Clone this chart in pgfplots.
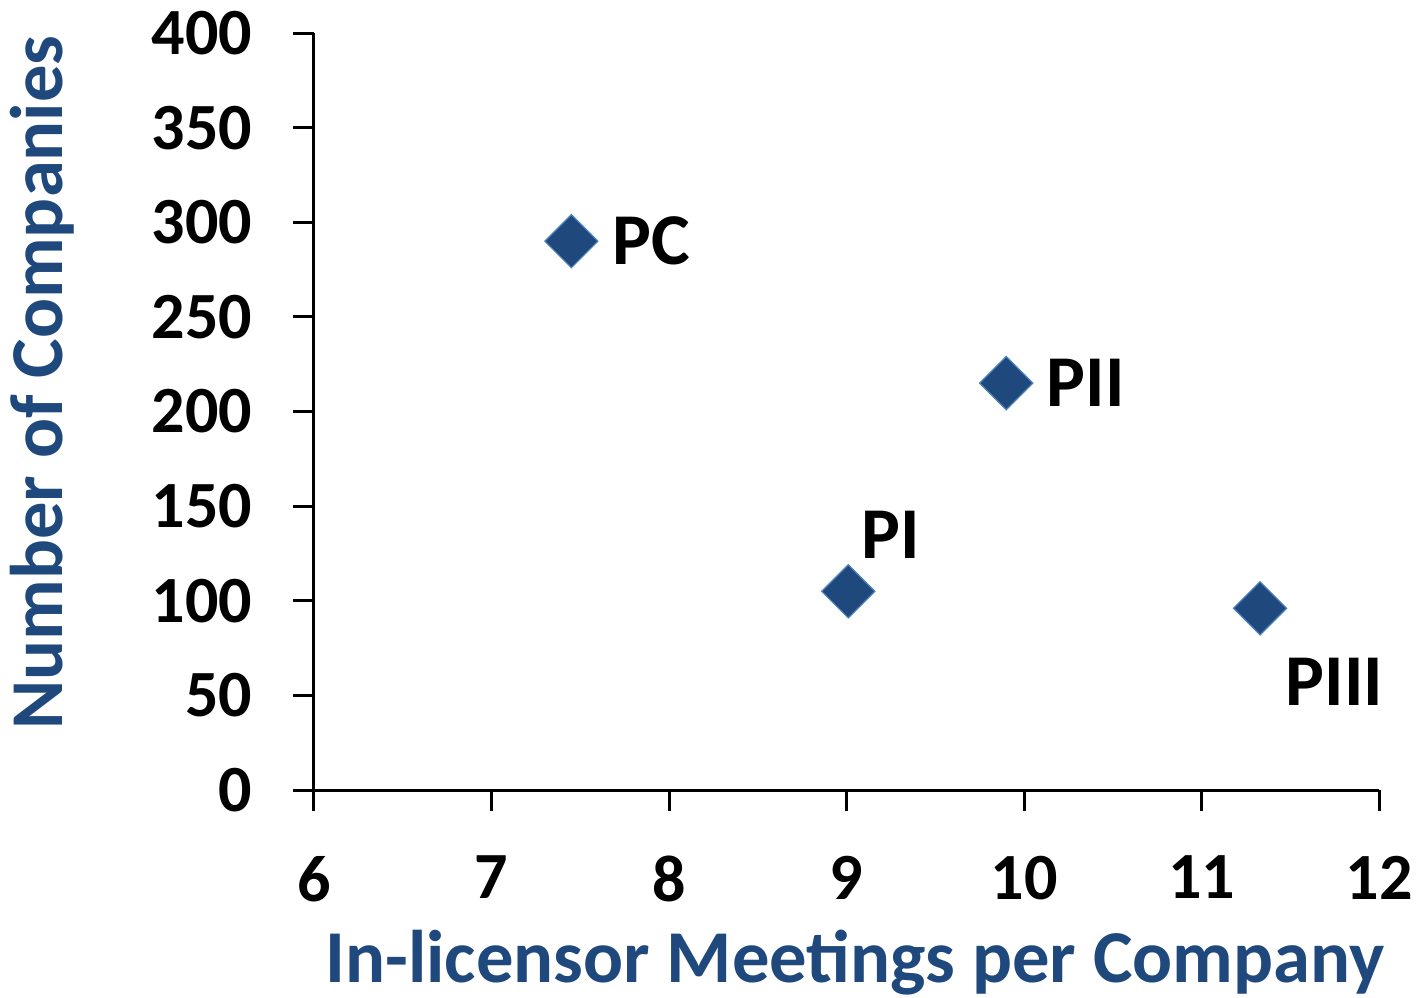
\documentclass[border=0pt]{standalone}
\usepackage{pgfplots}
\pgfplotsset{compat=1.18}
\usepackage{fontspec}
\setmainfont{Carlito}
\definecolor{mblue}{HTML}{1F497D}
\definecolor{medge}{HTML}{4F81BD}
\begin{document}
\begin{tikzpicture}
\begin{axis}[
  at={(0,0)}, anchor=origin,
  scale only axis, width=532.5pt, height=378.5pt,
  xmin=6, xmax=12, ymin=0, ymax=400,
  xtick={6,7,...,12}, ytick={0,50,...,400},
  axis x line*=bottom, axis y line*=left,
  axis line style={line width=1.5pt, black},
  tick style={line width=1.5pt, black},
  tick align=outside, major tick length=10.5pt,
  /pgf/number format/assume math mode=true,
  tick label style={font=\bfseries\fontsize{33}{33}\selectfont},
  xticklabel style={yshift=-19pt},
  yticklabel style={xshift=-17pt},
  xlabel={In-licensor Meetings per Company},
  ylabel={Number of Companies},
  label style={font=\bfseries\fontsize{37.3}{37.3}\selectfont, text=mblue},
  xlabel style={at={(rel axis cs:0.508,0)}, anchor=center, yshift=-86.5pt},
  ylabel style={at={(rel axis cs:-0.2554,0.5383)}, anchor=center},
  clip=false,
  nodes near coords,
  point meta=explicit symbolic,
  every node near coord/.append style={font=\bfseries\fontsize{36.5}{36.5}\selectfont, text=black, inner sep=0pt},
  mark options={rotate=45, fill=mblue, draw=medge, line width=0.6pt},
]
\addplot[only marks, mark=square*, mark size=9.4pt, every node near coord/.append style={anchor=west, xshift=20.5pt, yshift=0pt}] coordinates {(7.45,290) [PC]};
\addplot[only marks, mark=square*, mark size=9.4pt, every node near coord/.append style={anchor=west, xshift=20pt, yshift=0pt}] coordinates {(9.9,215) [PII]};
\addplot[only marks, mark=square*, mark size=9.4pt, every node near coord/.append style={anchor=west, xshift=6.5pt, yshift=28pt}] coordinates {(9.01,105) [PI]};
\addplot[only marks, mark=square*, mark size=9.4pt, every node near coord/.append style={anchor=west, xshift=12.5pt, yshift=-37pt}] coordinates {(11.33,96) [PIII]};
\end{axis}
\pgfresetboundingbox
\path (-157pt,-103.5pt) rectangle (551.5pt,395pt);
\end{tikzpicture}
\end{document}
